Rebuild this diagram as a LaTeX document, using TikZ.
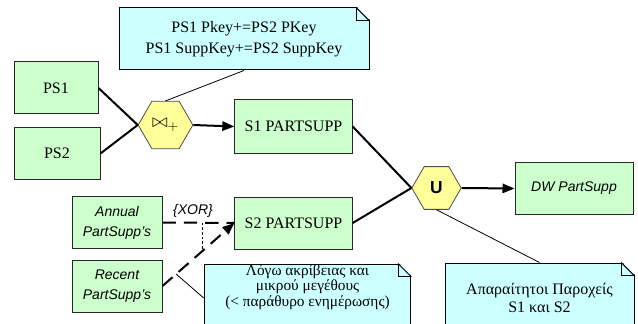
\documentclass[tikz,border=0pt]{standalone}
\usepackage{fontspec}
\setmainfont{Liberation Serif}
\setsansfont{Liberation Sans}
\usetikzlibrary{shapes.geometric,arrows.meta,calc}
\definecolor{boxgreen}{RGB}{204,255,204}
\definecolor{notecyan}{RGB}{204,255,255}
\definecolor{hexyellow}{RGB}{255,255,153}

\begin{document}
\begin{tikzpicture}[x=0.75pt, y=-0.75pt,
    box/.style={draw=black!85, fill=boxgreen, line width=0.75pt, inner sep=0pt,
      font=\fontsize{12}{14}\selectfont},
    srcbox/.style={box, align=center, font=\sffamily\itshape\fontsize{10.5}{15}\selectfont},
    hexa/.style={regular polygon, regular polygon sides=6, draw=black!70,
      fill=hexyellow, line width=0.6pt, inner sep=0pt},
    note/.style={draw=black, fill=notecyan, line width=0.75pt, align=center, inner sep=0pt},
    flow/.style={line width=1.5pt},
    link/.style={line width=0.6pt},
    dashflow/.style={flow, dash pattern=on 10pt off 6pt},
    tip/.style={-{Triangle[length=9pt,width=7pt]}}]
  \useasboundingbox (0,0) rectangle (638,324);
  \clip (0,0) rectangle (638,324);

  % sources
  \node[box, minimum width=63pt, minimum height=39pt] (ps1) at (56,88) {PS1};
  \node[box, minimum width=64.5pt, minimum height=38.5pt] (ps2) at (57,153.5) {PS2};
  \node[srcbox, minimum width=67.5pt, minimum height=38.5pt] (annual) at (117,222.5) {Annual\\PartSupp's};
  \node[srcbox, minimum width=67.5pt, minimum height=39pt] (recent) at (117,286) {Recent\\PartSupp's};

  % activities
  \node[hexa, minimum size=41pt, font=\fontsize{14}{14}\selectfont] (join) at (165.5,125)
    {$\bowtie_{\mathbf{+}}$};
  \node[hexa, minimum size=37pt, font=\sffamily\bfseries\fontsize{13}{13}\selectfont]
    (union) at (436.5,188) {U};

  % targets
  \node[box, minimum width=88pt, minimum height=40pt] (s1) at (293.5,126.5) {S1 PARTSUPP};
  \node[box, minimum width=88pt, minimum height=39pt] (s2) at (293.5,223) {S2 PARTSUPP};
  \node[box, minimum width=88.5pt, minimum height=38.5pt,
    font=\sffamily\itshape\fontsize{10.5}{12}\selectfont] (dw) at (574,188.5) {DW PartSupp};

  % notes
  \node[note, minimum width=187.5pt, minimum height=46.5pt, font=\fontsize{12}{16}\selectfont]
    (keys) at (244,39) {PS1 Pkey+=PS2 PKey\\PS1 SuppKey+=PS2 SuppKey};
  \node[note, minimum width=155pt, minimum height=51pt, text depth=19pt,
    font=\fontsize{11.5}{11.6}\selectfont] (accuracy) at (307.5,298)
    {Λόγω ακρίβειας και\\μικρού μεγέθους\\(< παράθυρο ενημέρωσης)};
  \node[note, minimum width=141.75pt, minimum height=51.75pt, font=\fontsize{12}{13.5}\selectfont]
    (needed) at (539.5,297.5) {Απαραίτητοι Παροχείς\\S1 και S2};
  \foreach \n in {keys, accuracy, needed} {
    \fill[white] ($(\n.north east)+(-10pt,1pt)$) -- ($(\n.north east)+(1pt,1pt)$)
      -- ($(\n.north east)+(1pt,-10pt)$) -- cycle;
    \draw[line width=0.75pt] ($(\n.north east)+(-10pt,0pt)$) -- ($(\n.north east)+(0pt,-10pt)$);
    \draw[line width=0.75pt] ($(\n.north east)+(-10pt,0pt)$) |- ($(\n.north east)+(0pt,-10pt)$);
  }

  % flows
  \draw[flow] (ps1.east) -- (join.west);
  \draw[flow] (ps2.east) -- (join.west);
  \draw[flow, tip] (join.east) -- (s1.west);
  \draw[flow] (s1.east) -- (union.west);
  \draw[flow] (s2.east) -- (union.west);
  \draw[flow, tip] (union.east) -- (dw.west);
  \draw[dashflow] (annual.east) -- (s2.west);
  \draw[dashflow, tip] (recent.east) -- (s2.west);

  % xor and note links
  \node[font=\sffamily\itshape\fontsize{10.5}{12}\selectfont] (xor) at (193,211) {\{XOR\}};
  \draw[link, dash pattern=on 2pt off 1.5pt] ($(annual.east)!0.56!(s2.west)$)
    -- ($(recent.east)!0.56!(s2.west)$);
  \draw[link] (keys.south) -- (join.north);
  \draw[link] (union.south) -- (needed.north);
  \draw[link] ($(recent.east)!0.19!(s2.west)$) -- (accuracy.west);
\end{tikzpicture}
\end{document}
